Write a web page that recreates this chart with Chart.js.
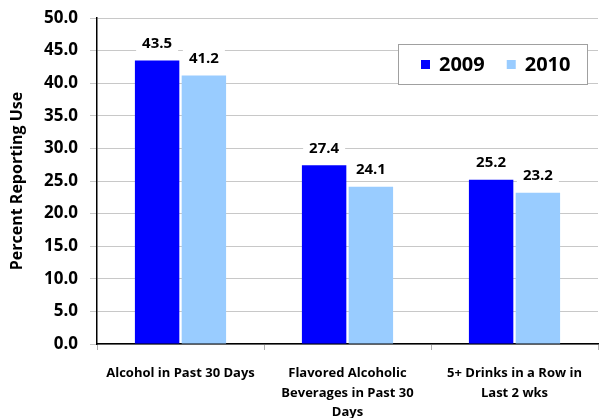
<!DOCTYPE html>
<html>
<head>
<meta charset="utf-8">
<script src="https://cdn.jsdelivr.net/npm/chart.js@4.4.1/dist/chart.umd.min.js"></script>
<style>
  html, body { margin: 0; padding: 0; background: #fff; }
  #wrap { width: 603px; height: 418px; }
</style>
</head>
<body>
<div id="wrap"><canvas id="chart" width="603" height="418"></canvas></div>
<script>
// values
const categories = [
  ["Alcohol in Past 30 Days"],
  ["Flavored Alcoholic", "Beverages in Past 30", "Days"],
  ["5+ Drinks in a Row in", "Last 2 wks"]
];
const seriesNames = ["2009", "2010"];
const values2009 = [43.5, 27.4, 25.2];
const values2010 = [41.2, 24.1, 23.2];
const colors = ["#0000ff", "#99ccff"];

const FONT = "'Open Sans', 'Noto Sans', sans-serif";

// numbers above the bars, on a white patch that hides the gridline
const barLabels = {
  id: "barLabels",
  afterDatasetsDraw(chart) {
    const ctx = chart.ctx;
    ctx.save();
    ctx.font = "bold 15px " + FONT;
    ctx.textAlign = "center";
    ctx.textBaseline = "middle";
    chart.data.datasets.forEach((ds, i) => {
      chart.getDatasetMeta(i).data.forEach((bar, j) => {
        const txt = ds.data[j].toFixed(1);
        const y = bar.y - 17;
        const w = ctx.measureText(txt).width + 12;
        ctx.fillStyle = "#fff";
        ctx.fillRect(bar.x - w / 2, y - 11, w, 22);
        ctx.fillStyle = "#000";
        ctx.fillText(txt, bar.x, y);
      });
    });
    ctx.restore();
  }
};

// boxed legend inside the plot, top right
const boxLegend = {
  id: "boxLegend",
  afterDraw(chart) {
    const ctx = chart.ctx;
    const a = chart.chartArea;
    const w = 189, h = 40, x0 = a.right - 11 - w, y0 = 44;
    ctx.save();
    ctx.fillStyle = "#fff";
    ctx.fillRect(x0, y0, w, h);
    ctx.strokeStyle = "#a0a0a0";
    ctx.lineWidth = 1;
    ctx.strokeRect(x0 + 0.5, y0 + 0.5, w, h);
    ctx.font = "bold 20px " + FONT;
    ctx.textBaseline = "middle";
    let x = x0 + 23;
    chart.data.datasets.forEach((ds) => {
      ctx.fillStyle = ds.backgroundColor;
      ctx.fillRect(x, y0 + 16, 9, 9);
      ctx.fillStyle = "#000";
      ctx.fillText(ds.label, x + 18, y0 + h / 2 + 1);
      x += 18 + ctx.measureText(ds.label).width + 22;
    });
    ctx.restore();
  }
};

new Chart(document.getElementById("chart"), {
  type: "bar",
  data: {
    labels: categories,
    datasets: [
      { label: seriesNames[0], data: values2009, backgroundColor: colors[0] },
      { label: seriesNames[1], data: values2010, backgroundColor: colors[1] }
    ]
  },
  options: {
    responsive: false,
    animation: false,
    layout: { padding: { top: 18, right: 5, left: 0, bottom: 0 } },
    datasets: { bar: { categoryPercentage: 0.56, barPercentage: 0.95 } },
    plugins: { legend: { display: false }, tooltip: { enabled: false } },
    scales: {
      x: {
        grid: { display: true, drawOnChartArea: false, tickLength: 6, color: "#b0b0b0", offset: true },
        border: { color: "#000", width: 1.5 },
        ticks: { color: "#000", font: { family: FONT, size: 13, weight: "bold", lineHeight: 1.5 }, padding: 14, maxRotation: 0, autoSkip: false },
        afterFit(s) { s.height = 74; }
      },
      y: {
        min: 0, max: 50,
        ticks: {
          stepSize: 5, color: "#000", padding: 12,
          font: { family: FONT, size: 17, weight: "bold" },
          callback: v => v.toFixed(1)
        },
        grid: { color: "#c8c8c8", tickLength: 7, lineWidth: 1 },
        border: { color: "#000", width: 1.5 },
        title: { display: true, text: "Percent Reporting Use", color: "#000", font: { family: FONT, size: 16, weight: "bold" }, padding: { top: 8, bottom: 4 } },
        afterFit(s) { s.width = 97; s.paddingTop = 0; }
      }
    }
  },
  plugins: [barLabels, boxLegend]
});
</script>
</body>
</html>
